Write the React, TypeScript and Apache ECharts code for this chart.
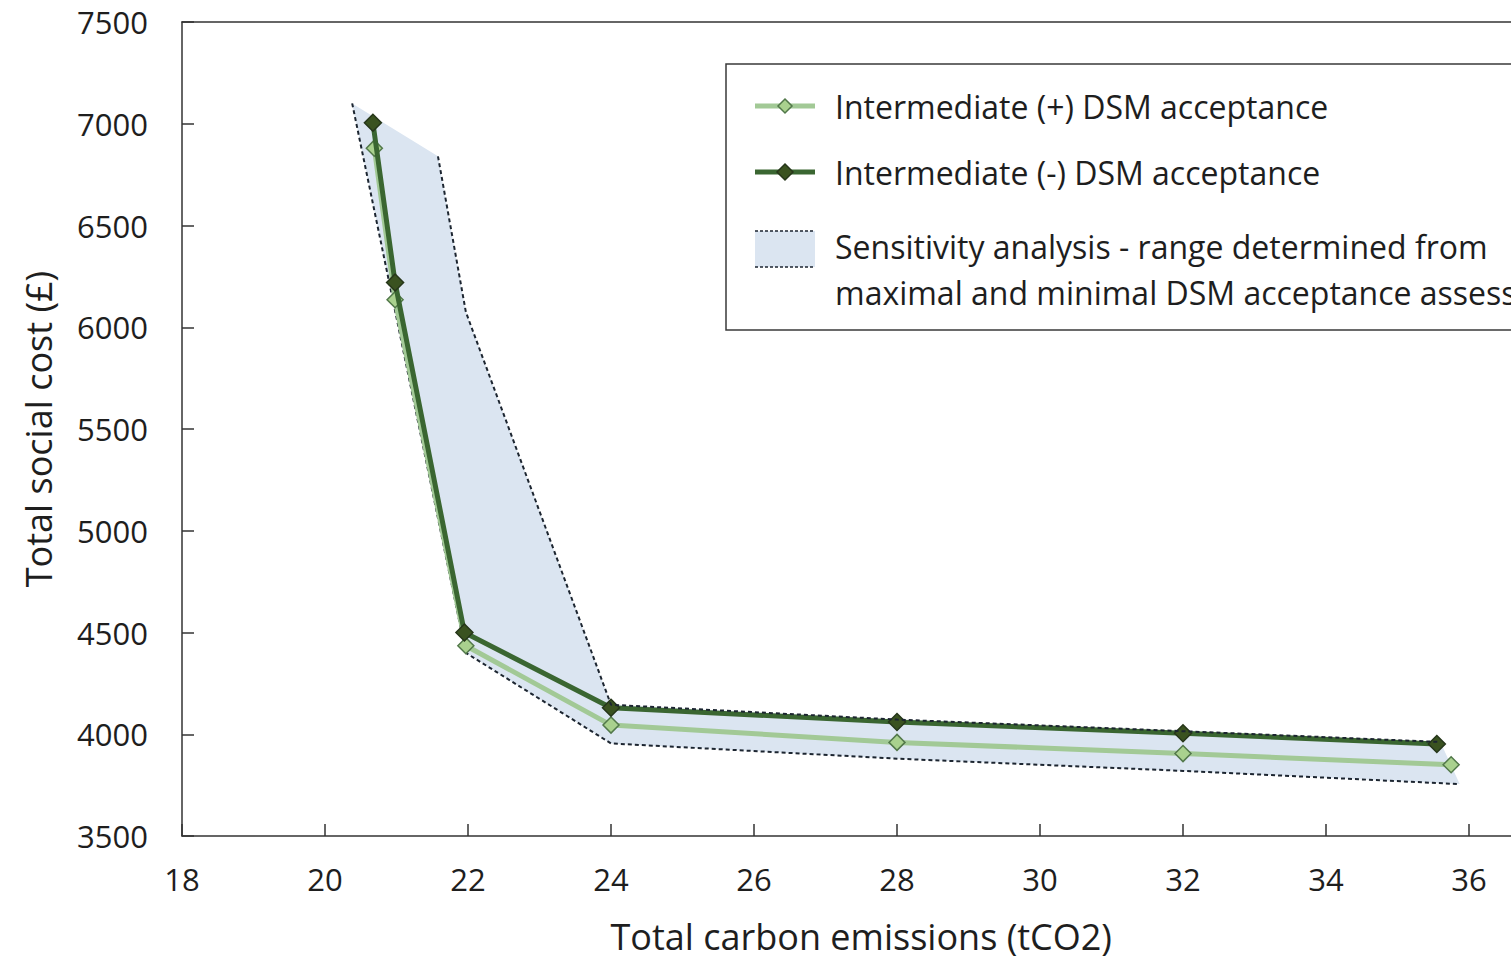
import React, { useEffect, useRef } from "react";
import * as echarts from "echarts";

// ---- Data ----
const xPlus = [20.69, 20.98, 21.97, 24.0, 28.0, 32.0, 35.75];
const yPlus = [6880, 6135, 4435, 4045, 3960, 3905, 3850];

const xMinus = [20.67, 20.98, 21.95, 24.0, 28.0, 32.0, 35.55];
const yMinus = [7005, 6220, 4500, 4130, 4060, 4005, 3952];

const bandUpperX = [20.38, 21.58, 21.97, 24.0, 28.0, 32.0, 35.6];
const bandUpperY = [7100, 6840, 6075, 4145, 4072, 4015, 3962];
const bandLowerX = [20.38, 21.97, 24.0, 28.0, 32.0, 35.87];
const bandLowerY = [7100, 4400, 3955, 3880, 3820, 3755];

const xTicks = [18, 20, 22, 24, 26, 28, 30, 32, 34, 36];
const yTicks = [3500, 4000, 4500, 5000, 5500, 6000, 6500, 7000, 7500];

const seriesNames = [
  "Intermediate (+) DSM acceptance",
  "Intermediate (-) DSM acceptance",
];
const bandLegendLines = [
  "Sensitivity analysis - range determined from",
  "maximal and minimal DSM acceptance assessments",
];
const xTitle = "Total carbon emissions (tCO2)";
const yTitle = "Total social cost (£)";

const FONT = '"Open Sans", "Noto Sans", sans-serif';
const TXT = "#1e1e1e";
const LIGHT_LINE = "#a2c996";
const LIGHT_MARK = "#a9d18e";
const LIGHT_MARK_BORDER = "#52784a";
const DARK_LINE = "#3a6631";
const DARK_MARK = "#3a5220";
const DARK_MARK_BORDER = "#26361a";
const BAND = "#dbe5f1";
const DASH = "#1c2530";
const LEG_FONT = `32px ${FONT}`;

const zip = (xs: number[], ys: number[]) => xs.map((x, i) => [x, ys[i]]);

function diamond(cx: number, cy: number, r: number) {
  return [
    [cx, cy - r],
    [cx + r, cy],
    [cx, cy + r],
    [cx - r, cy],
  ];
}

export default function App() {
  const ref = useRef<HTMLDivElement>(null);

  useEffect(() => {
    if (!ref.current) return;
    const chart = echarts.init(ref.current, undefined, { renderer: "svg" });

    const legendGraphics: any[] = [
      {
        type: "rect",
        shape: { x: 726, y: 64, width: 900, height: 266 },
        style: { fill: "#fff", stroke: "#3a3a3a", lineWidth: 1.5 },
        z: 100,
      },
      {
        type: "line",
        shape: { x1: 755, y1: 106, x2: 815, y2: 106 },
        style: { stroke: LIGHT_LINE, lineWidth: 5 },
        z: 101,
      },
      {
        type: "polygon",
        shape: { points: diamond(785, 106, 7) },
        style: { fill: LIGHT_MARK, stroke: LIGHT_MARK_BORDER, lineWidth: 1.5 },
        z: 102,
      },
      {
        type: "text",
        x: 835,
        y: 106,
        style: { text: seriesNames[0], font: LEG_FONT, fill: TXT, verticalAlign: "middle", align: "left" },
        z: 102,
      },
      {
        type: "line",
        shape: { x1: 755, y1: 172, x2: 815, y2: 172 },
        style: { stroke: DARK_LINE, lineWidth: 5 },
        z: 101,
      },
      {
        type: "polygon",
        shape: { points: diamond(785, 172, 8) },
        style: { fill: DARK_MARK, stroke: DARK_MARK_BORDER, lineWidth: 1.5 },
        z: 102,
      },
      {
        type: "text",
        x: 835,
        y: 172,
        style: { text: seriesNames[1], font: LEG_FONT, fill: TXT, verticalAlign: "middle", align: "left" },
        z: 102,
      },
      {
        type: "rect",
        shape: { x: 755, y: 231, width: 60, height: 36 },
        style: { fill: BAND },
        z: 101,
      },
      {
        type: "line",
        shape: { x1: 755, y1: 231, x2: 815, y2: 231 },
        style: { stroke: DASH, lineWidth: 1.5, lineDash: [3, 2] },
        z: 102,
      },
      {
        type: "line",
        shape: { x1: 755, y1: 267, x2: 815, y2: 267 },
        style: { stroke: DASH, lineWidth: 1.5, lineDash: [3, 2] },
        z: 102,
      },
      {
        type: "text",
        x: 835,
        y: 246,
        style: { text: bandLegendLines[0], font: LEG_FONT, fill: TXT, verticalAlign: "middle", align: "left" },
        z: 102,
      },
      {
        type: "text",
        x: 835,
        y: 292,
        style: { text: bandLegendLines[1], font: LEG_FONT, fill: TXT, verticalAlign: "middle", align: "left" },
        z: 102,
      },
    ];

    const option: any = {
      animation: false,
      backgroundColor: "#ffffff",
      textStyle: { fontFamily: FONT },
      grid: { left: 182, top: 22, right: 1600 - 1540.5, bottom: 959 - 837, containLabel: false },
      xAxis: [
        {
          type: "value",
          min: xTicks[0],
          max: 37,
          interval: 2,
          name: xTitle,
          nameLocation: "middle",
          nameGap: 82,
          nameTextStyle: { fontSize: 36, color: TXT, fontFamily: FONT },
          axisLine: { show: true, onZero: false, lineStyle: { color: "#333", width: 1.5 } },
          axisTick: { show: true, inside: true, length: 12, lineStyle: { color: "#333", width: 1.5 } },
          axisLabel: {
            show: true,
            margin: 27,
            fontSize: 31,
            color: TXT,
            fontFamily: FONT,
            showMaxLabel: false,
            formatter: (v: number) => (xTicks.includes(v) ? String(v) : ""),
          },
          splitLine: { show: false },
        },
        {
          type: "value",
          position: "top",
          min: xTicks[0],
          max: 37,
          interval: 2,
          axisLine: { show: true, onZero: false, lineStyle: { color: "#333", width: 1.5 } },
          axisTick: { show: false },
          axisLabel: { show: false },
          splitLine: { show: false },
        },
      ],
      yAxis: {
        type: "value",
        min: yTicks[0],
        max: yTicks[yTicks.length - 1],
        interval: 500,
        name: yTitle,
        nameLocation: "middle",
        nameGap: 126,
        nameRotate: 90,
        nameTextStyle: { fontSize: 36, color: TXT, fontFamily: FONT },
        axisLine: { show: true, onZero: false, lineStyle: { color: "#333", width: 1.5 } },
        axisTick: { show: true, inside: true, length: 12, lineStyle: { color: "#333", width: 1.5 } },
        axisLabel: {
          show: true,
          margin: 34,
          fontSize: 31,
          color: TXT,
          fontFamily: FONT,
          formatter: (v: number) => String(v),
        },
        splitLine: { show: false },
      },
      series: [
        {
          type: "custom",
          name: "band",
          xAxisIndex: 0,
          yAxisIndex: 0,
          z: 1,
          data: [[bandUpperX[0], bandUpperY[0]]],
          renderItem: (_params: any, api: any) => {
            const pts: number[][] = [];
            for (let i = 0; i < bandUpperX.length; i++) pts.push(api.coord([bandUpperX[i], bandUpperY[i]]));
            for (let i = bandLowerX.length - 1; i >= 0; i--) pts.push(api.coord([bandLowerX[i], bandLowerY[i]]));
            return { type: "polygon", shape: { points: pts }, style: { fill: BAND } };
          },
        },
        {
          type: "line",
          name: "lower",
          z: 2,
          data: zip(bandLowerX, bandLowerY),
          symbol: "none",
          lineStyle: { color: DASH, width: 2, type: [4, 3] },
        },
        {
          type: "line",
          name: seriesNames[0],
          z: 3,
          data: zip(xPlus, yPlus),
          symbol: "diamond",
          symbolSize: 16,
          lineStyle: { color: LIGHT_LINE, width: 5 },
          itemStyle: { color: LIGHT_MARK, borderColor: LIGHT_MARK_BORDER, borderWidth: 1.5 },
        },
        {
          type: "line",
          name: seriesNames[1],
          z: 4,
          data: zip(xMinus, yMinus),
          symbol: "diamond",
          symbolSize: 17,
          lineStyle: { color: DARK_LINE, width: 5 },
          itemStyle: { color: DARK_MARK, borderColor: DARK_MARK_BORDER, borderWidth: 1.5 },
        },
        {
          type: "line",
          name: "upper",
          z: 5,
          data: zip(bandUpperX.slice(1), bandUpperY.slice(1)),
          symbol: "none",
          lineStyle: { color: DASH, width: 2, type: [4, 3] },
        },
      ],
      graphic: legendGraphics,
    };

    chart.setOption(option);
    return () => chart.dispose();
  }, []);

  return (
    <div
      style={{
        position: "fixed",
        left: 0,
        top: 0,
        width: 1511,
        height: 959,
        overflow: "hidden",
        background: "#fff",
      }}
    >
      <div ref={ref} style={{ width: 1600, height: 959 }} />
    </div>
  );
}
